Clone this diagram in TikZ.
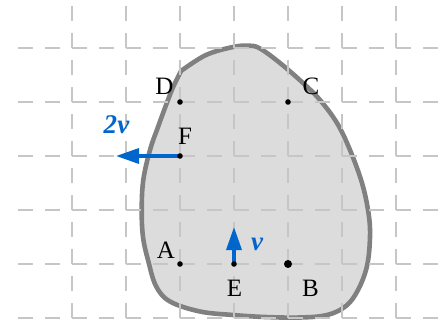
\documentclass[tikz,border=0pt]{standalone}
\usepackage{fontspec}
\setmainfont{Liberation Serif}
\usetikzlibrary{arrows.meta}
\definecolor{gridc}{HTML}{C6C6C6}
\definecolor{blobfill}{HTML}{DCDCDC}
\definecolor{blobline}{HTML}{808080}
\definecolor{velblue}{HTML}{0066CC}
\begin{document}
\begin{tikzpicture}[x=1pt,y=-1pt,
 gridline/.style={draw=gridc, line width=1.4pt, dash pattern=on 15pt off 12pt},
 blob/.style={fill=blobfill, draw=blobline, line width=4.6pt, line join=round},
 lbl/.style={anchor=base, inner sep=0pt, font=\fontsize{25}{28}\selectfont},
 vel/.style={draw=velblue, line width=3.4pt, -{Triangle[length=23pt,width=15pt]}},
 vlbl/.style={anchor=base, inner sep=0pt, text=velblue, font=\bfseries\itshape\fontsize{27}{30}\selectfont},
]
\useasboundingbox (0,0) rectangle (442,326);
% body
\path[blob] plot[smooth, tension=0.6] coordinates {
 (181,71) (206,55) (233,47) (249,45.7) (260,48.5) (280,63) (303,83) (320,100)
 (337,123) (350,150) (362,183) (368.5,213) (370,237) (367,266) (358,290)
 (346,306) (327,315) (300,317.5) (265,317) (233,315) (200,311.5) (170,301.5)
 (156,286) (148,260) (143,237) (141.7,210) (143.3,180) (150,150) (158,127)
 (166.7,103.3) (173.3,86.7) (181,71)} -- cycle;
% grid
\foreach \x in {72,126,...,396} \draw[gridline] (\x,6) -- (\x,326);
\foreach \y in {48,102,...,318} \draw[gridline] (18,\y) -- (442,\y);
% points
\coordinate (D) at (180,102);
\coordinate (C) at (288,102);
\coordinate (F) at (180,156);
\coordinate (A) at (180,264);
\coordinate (E) at (234,264);
\coordinate (B) at (288,264);
\coordinate (Ftip) at (116,156);
\coordinate (Etip) at (234,227);
% velocities
\draw[vel] (F) -- (Ftip);
\draw[vel] (E) -- (Etip);
% dots
\foreach \p in {D,C,F,A,E} \fill (\p) circle (2.8pt);
\fill (B) circle (4pt);
% labels
\node[lbl] (lD) at (164.5,95) {D};
\node[lbl] (lC) at (311,95) {C};
\node[lbl] (lF) at (185,145) {F};
\node[lbl] (lA) at (166,258) {A};
\node[lbl] (lE) at (234.5,296) {E};
\node[lbl] (lB) at (310.5,296) {B};
\node[vlbl] (l2v) at (116.5,134) {2\kern0.5pt v};
\node[vlbl] (lv) at (257,250) {v};
\end{tikzpicture}
\end{document}
